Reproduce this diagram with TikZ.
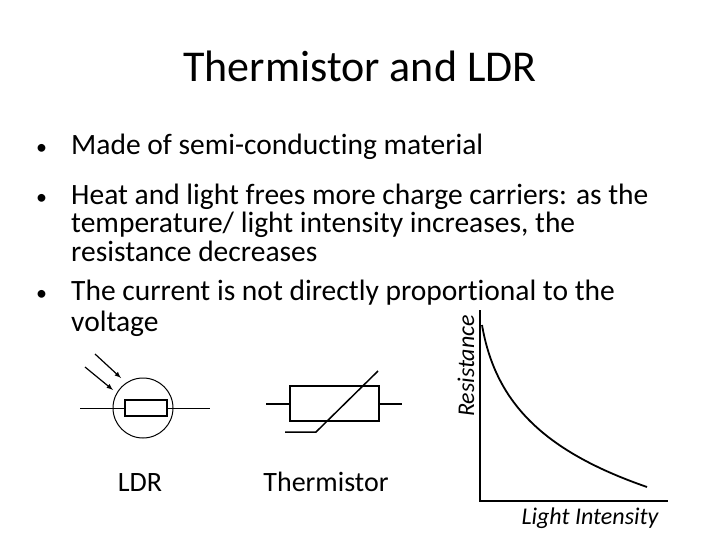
\documentclass[tikz,border=0pt]{standalone}
\usepackage{fontspec}
\setmainfont{Carlito}[RawFeature=-liga]
\begin{document}
\begin{tikzpicture}[x=1pt,y=-1pt,
  txt/.style={anchor=base west,inner sep=0,font=\fontsize{29.5}{34}\selectfont},
  bul/.style={anchor=base west,inner sep=0,font=\fontsize{22}{26}\selectfont},
  hw/.style={inner sep=0,font=\fontsize{24}{28}\selectfont\itshape}]
\useasboundingbox (0,0) rectangle (720,540);
\node[inner sep=0,anchor=base,font=\fontsize{44}{48}\selectfont] (title) at (360,82) {Thermistor and LDR};
\node[bul] (b1) at (36,155) {•};
\node[txt] (l1) at (71,155) {Made of semi-conducting material};
\node[bul] (b2) at (36,205) {•};
\node[txt] (l2) at (71,205) {Heat and light frees more charge carriers: as the};
\node[txt] (l3) at (71,233) {temperature/ light intensity increases, the};
\node[txt] (l4) at (71,261) {resistance decreases};
\node[bul] (b3) at (36,300) {•};
\node[txt] (l5) at (71,300) {The current is not directly proportional to the};
\node[txt] (l6) at (71,331) {voltage};
% LDR
\draw[line width=1pt] (80,408) -- (210,408);
\draw[line width=1pt] (143,408) circle (30);
\draw[line width=1.2pt,fill=white] (125,400) rectangle (167,416);
\draw[line width=1.2pt,-latex] (95,354) -- (121,378);
\draw[line width=1.2pt,-latex] (85,367) -- (113,390);
\node[inner sep=0,anchor=base,font=\fontsize{28}{32}\selectfont] (ldr) at (140,491) {LDR};
% Thermistor
\draw[line width=2pt] (266,404) -- (402,404);
\draw[line width=2.5pt,fill=white] (290,386) rectangle (379,421);
\draw[line width=1.5pt] (285,432) -- (316,432) -- (378,371);
\node[inner sep=0,anchor=base,font=\fontsize{28}{32}\selectfont] (th) at (326,491) {Thermistor};
% graph
\draw[line width=1.5pt] (480,310) -- (480,501) -- (668,501);
\draw[line width=1.8pt] (482,325) .. controls (495,400) and (540,450) .. (647,487);
\node[hw,rotate=90] (res) at (466,366) {Resistance};
\node[hw] (li) at (590,518) {Light Intensity};
\end{tikzpicture}
\end{document}
